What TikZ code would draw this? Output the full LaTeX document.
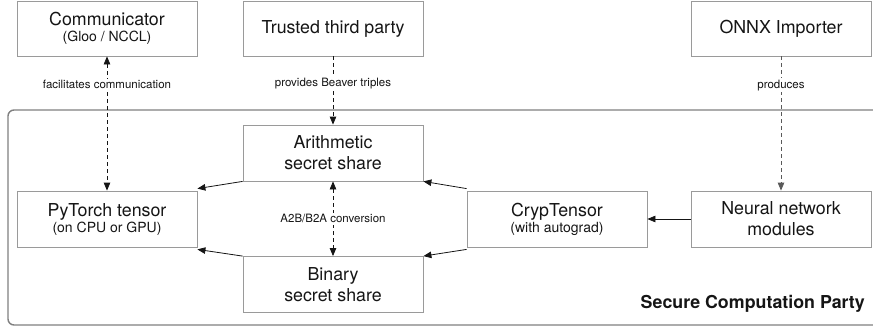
\documentclass[tikz,border=0pt]{standalone}
\usepackage{fontspec}
\setmainfont{TeX Gyre Heros}
\usetikzlibrary{arrows.meta}
\definecolor{boxgray}{HTML}{9A9A9A}
\definecolor{outergray}{HTML}{808080}
\definecolor{inkc}{HTML}{151515}
\newcommand\mainsz{\fontsize{17.8}{21}\selectfont}
\newcommand\subsz{\fontsize{14}{15}\selectfont}
\newcommand\lblsz{\fontsize{11.5}{13}\selectfont}
\begin{document}
\begin{tikzpicture}[x=1pt,y=-1pt,
  box/.style={draw=boxgray, line width=0.8pt, fill=white, minimum width=180pt, minimum height=55pt,
    inner sep=0pt, align=center, font=\mainsz, text=inkc},
  lbl/.style={fill=white, inner sep=1.5pt, font=\lblsz, text=inkc},
  dashlink/.style={draw=inkc, line width=0.8pt, dash pattern=on 4pt off 3pt},
  solidlink/.style={draw=inkc, line width=0.8pt},
  hd/.tip={Triangle[length=8pt,width=6.5pt]}]
\useasboundingbox (0,0) rectangle (873,327);
\clip (0,0) rectangle (873,327);
% outer party frame
\draw[outergray, line width=1.4pt, rounded corners=6pt] (8,110) rectangle (890,325);
% top nodes
\node[box] (comm) at (107,28.5) {Communicator\\[-5pt]{\subsz (Gloo / NCCL)}};
\node[box] (ttp) at (333,28.5) {Trusted third party};
\node[box] (onnx) at (781,28.5) {ONNX Importer};
% inner nodes
\node[box, minimum height=56pt] (arith) at (333,153) {Arithmetic\\secret share};
\node[box, minimum height=56pt] (torch) at (107,219) {PyTorch tensor\\[-5pt]{\subsz (on CPU or GPU)}};
\node[box, minimum height=56pt] (bin) at (333,284.5) {Binary\\secret share};
\node[box, minimum height=56pt] (cryp) at (557,219) {CrypTensor\\[-5pt]{\subsz (with autograd)}};
\node[box, minimum height=56pt] (nn) at (781,219) {Neural network\\modules};
\node[anchor=base east, font=\fontsize{17.8}{20}\selectfont\bfseries, text=inkc, inner sep=0pt] (party) at (865,308) {Secure Computation Party};
% dashed links
\draw[dashlink, hd-hd] (comm.south) -- (torch.north)
  node[lbl, pos=0.21] (lcomm) {facilitates communication};
\draw[dashlink, -hd] (ttp.south) -- (arith.north)
  node[lbl, pos=0.4] (lttp) {provides Beaver triples};
\draw[dashlink, draw=black!65, -hd] (onnx.south) -- (nn.north)
  node[lbl, pos=0.215] (lonnx) {produces};
\draw[dashlink, hd-hd] (arith.south) -- (bin.north)
  node[lbl, midway] (lconv) {A2B/B2A conversion};
% solid links
\draw[solidlink, -hd] (arith.south west) -- ([yshift=2pt]torch.north east);
\draw[solidlink, -hd] (bin.north west) -- ([yshift=-2pt]torch.south east);
\draw[solidlink, -hd] ([yshift=2pt]cryp.north west) -- (arith.south east);
\draw[solidlink, -hd] ([yshift=-2pt]cryp.south west) -- (bin.north east);
\draw[solidlink, -hd] (nn.west) -- (cryp.east);
\end{tikzpicture}
\end{document}
